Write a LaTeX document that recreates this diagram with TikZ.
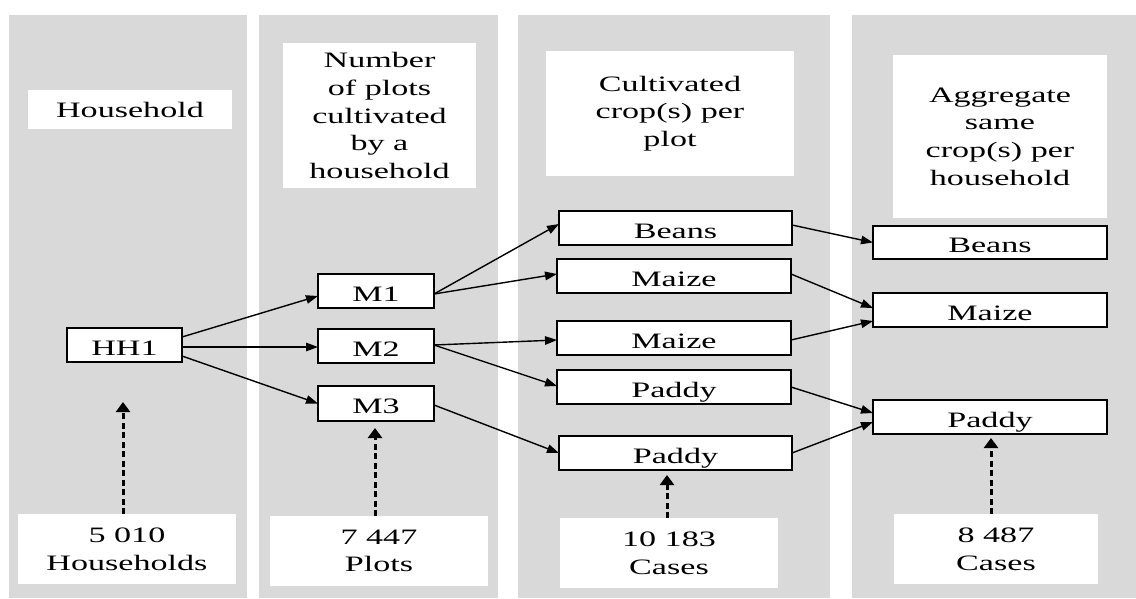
\documentclass[tikz,border=0pt]{standalone}
\usepackage{fontspec}
\setmainfont{Liberation Serif}[FakeStretch=1.55]
\usetikzlibrary{arrows.meta}
\definecolor{panelgray}{HTML}{D9D9D9}
\begin{document}
\begin{tikzpicture}[x=1pt,y=-1pt,
  panelbg/.style={fill=panelgray, draw=none},
  txtbox/.style={fill=white, draw=none, inner sep=0pt, outer sep=0pt, align=center,
    font=\fontsize{22}{27.7}\selectfont},
  itembox/.style={txtbox, draw=black, line width=1.1pt, text height=22pt, text depth=2pt},
  flowarrow/.style={line width=1.4pt, -{Triangle[length=12pt,width=8.5pt]}},
  cntarrow/.style={line width=3pt, dash pattern=on 6pt off 3.5pt, -{Triangle[length=10pt,width=14pt]}},
]
\useasboundingbox (0,0) rectangle (1136,598);

% panels
\fill[panelbg] (9,15) rectangle (247,598);
\fill[panelbg] (259,15) rectangle (498,598);
\fill[panelbg] (518,15) rectangle (830,598);
\fill[panelbg] (852,15) rectangle (1136,598);

% headers
\node[txtbox, minimum width=204pt, minimum height=39pt] (h1) at (130,109.5) {Household};
\node[txtbox, minimum width=193pt, minimum height=145pt] (h2) at (379.5,115.5) {Number\\of plots\\cultivated\\by a\\household};
\node[txtbox, minimum width=248pt, minimum height=125pt] (h3) at (670,113.5) {Cultivated\\crop(s) per\\plot};
\node[txtbox, minimum width=214pt, minimum height=163pt] (h4) at (1000,136.5) {Aggregate\\same\\crop(s) per\\household};

% items
\node[itembox, minimum width=115pt, minimum height=34pt] (hh1) at (124.5,345) {HH1};
\node[itembox, minimum width=116pt, minimum height=34pt] (m1) at (376,291) {M1};
\node[itembox, minimum width=116pt, minimum height=34pt] (m2) at (376,346) {M2};
\node[itembox, minimum width=116pt, minimum height=35pt] (m3) at (376,403.5) {M3};

\node[itembox, minimum width=233pt, minimum height=34pt] (cb) at (675.5,228) {Beans};
\node[itembox, minimum width=234pt, minimum height=34pt] (cm1) at (674,276) {Maize};
\node[itembox, minimum width=234pt, minimum height=34pt] (cm2) at (674,338) {Maize};
\node[itembox, minimum width=234pt, minimum height=34pt] (cp1) at (674,387) {Paddy};
\node[itembox, minimum width=233pt, minimum height=34pt] (cp2) at (675.5,453) {Paddy};

\node[itembox, minimum width=234pt, minimum height=33pt] (ab) at (990,242.5) {Beans};
\node[itembox, minimum width=234pt, minimum height=34pt] (am) at (990,310) {Maize};
\node[itembox, minimum width=234pt, minimum height=34pt] (ap) at (990,417) {Paddy};

% counts
\node[txtbox, minimum width=218pt, minimum height=70pt] (b1) at (127,549) {5 010\\Households};
\node[txtbox, minimum width=218pt, minimum height=70pt] (b2) at (379,551) {7 447\\Plots};
\node[txtbox, minimum width=218pt, minimum height=70pt] (b3) at (669,553) {10 183\\Cases};
\node[txtbox, minimum width=204pt, minimum height=70pt] (b4) at (996,549) {8 487\\Cases};

% flow arrows
\draw[flowarrow] ([yshift=8pt]hh1.east) -- ([yshift=-5pt]m1.west);
\draw[flowarrow] ([yshift=-2pt]hh1.east) -- ([yshift=-1pt]m2.west);
\draw[flowarrow] ([yshift=-11pt]hh1.east) -- (m3.west);

\draw[flowarrow] ([yshift=-3pt]m1.east) -- ([yshift=4pt]cb.west);
\draw[flowarrow] ([yshift=-3pt]m1.east) -- ([yshift=2pt]cm1.west);
\draw[flowarrow] ([yshift=1pt]m2.east) -- ([yshift=-2pt]cm2.west);
\draw[flowarrow] ([yshift=1pt]m2.east) -- ([yshift=1pt]cp1.west);
\draw[flowarrow] ([yshift=-1.5pt]m3.east) -- (cp2.west);

\draw[flowarrow] ([yshift=3pt]cb.east) -- (ab.west);
\draw[flowarrow] ([yshift=2pt]cm1.east) -- ([yshift=2pt]am.west);
\draw[flowarrow] ([yshift=-2pt]cm2.east) -- ([yshift=-11pt]am.west);
\draw[flowarrow] (cp1.east) -- ([yshift=4pt]ap.west);
\draw[flowarrow] (cp2.east) -- ([yshift=-5pt]ap.west);

% count arrows
\coordinate (d1) at (123,402);
\coordinate (d2) at (375,428);
\coordinate (d3) at (667,475);
\coordinate (d4) at (991,438);
\draw[cntarrow] (b1.north -| d1) -- (d1);
\draw[cntarrow] (b2.north -| d2) -- (d2);
\draw[cntarrow] (b3.north -| d3) -- (d3);
\draw[cntarrow] (b4.north -| d4) -- (d4);
\end{tikzpicture}
\end{document}
